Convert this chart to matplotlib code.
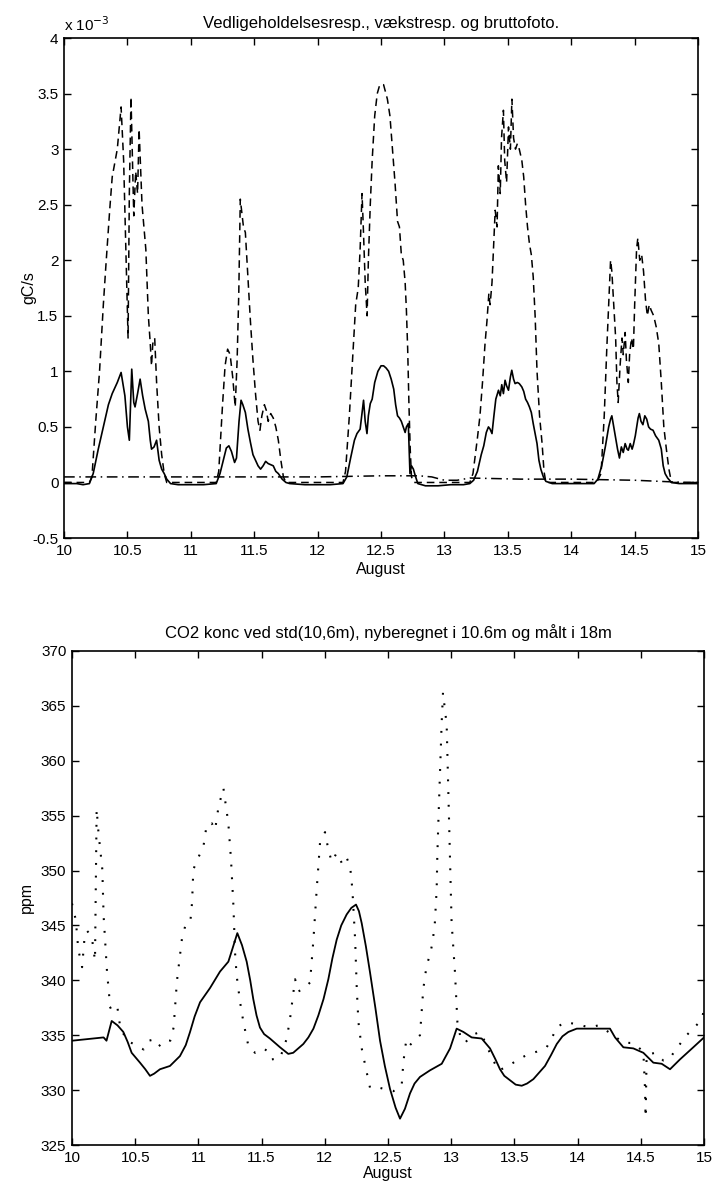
import matplotlib
matplotlib.use("Agg")
import matplotlib.pyplot as plt

plt.rcParams['font.family'] = ['Liberation Sans', 'DejaVu Sans']
plt.rcParams['font.size'] = 11

# Øverste figur: bruttofotosyntese (stiplet), vækstrespiration (fuldt optrukket)
# og vedligeholdelsesrespiration (stiplet-prikket). Enhed: 1e-3 gC/s
brutto_x = [10.0, 10.2, 10.22, 10.25, 10.28, 10.31, 10.33, 10.36, 10.38, 10.42, 10.45, 10.47,
            10.49, 10.505, 10.515, 10.528, 10.54, 10.55, 10.565, 10.58, 10.592, 10.605, 10.615,
            10.63, 10.645, 10.665, 10.68, 10.69, 10.70, 10.715, 10.73, 10.75, 10.77, 10.79, 10.81,
            11.2, 11.22, 11.25, 11.27, 11.29, 11.31, 11.33, 11.35, 11.365, 11.378, 11.39, 11.40,
            11.415, 11.43, 11.45, 11.47, 11.49, 11.51, 11.53, 11.545, 11.56, 11.58, 11.595, 11.61,
            11.63, 11.65, 11.67, 11.69, 11.71, 11.73, 11.75,
            12.2, 12.22, 12.25, 12.28, 12.30, 12.32, 12.335, 12.35, 12.36, 12.375, 12.39, 12.40,
            12.415, 12.43, 12.45, 12.47, 12.49, 12.52, 12.55, 12.57, 12.59, 12.61, 12.63, 12.645,
            12.66, 12.675, 12.69, 12.70, 12.71, 12.72, 12.73, 12.74, 12.76,
            13.2, 13.225, 13.26, 13.28, 13.30, 13.32, 13.335, 13.35, 13.36, 13.375, 13.39, 13.40,
            13.415, 13.425, 13.44, 13.45, 13.465, 13.475, 13.49, 13.505, 13.52, 13.532, 13.545,
            13.56, 13.575, 13.59, 13.61, 13.625, 13.64, 13.655, 13.67, 13.685, 13.70, 13.715,
            13.73, 13.75, 13.77, 13.785, 13.80,
            14.2, 14.235, 14.26, 14.28, 14.295, 14.31, 14.32, 14.335, 14.35, 14.36, 14.37, 14.385,
            14.40, 14.41, 14.425, 14.435, 14.45, 14.46, 14.475, 14.49, 14.50, 14.515, 14.525,
            14.54, 14.555, 14.57, 14.585, 14.60, 14.615, 14.63, 14.65, 14.67, 14.69, 14.71, 14.73,
            14.75, 14.77, 14.79, 15.0]
brutto_y = [0.0, 0.0, 0.05, 0.55, 1.0, 1.6, 1.95, 2.45, 2.75, 3.0, 3.38, 2.9,
            2.0, 1.3, 2.6, 3.47, 2.9, 2.4, 2.8, 2.6, 3.18, 2.8, 2.5,
            2.3, 2.1, 1.5, 1.25, 1.05, 1.25, 1.3, 0.9, 0.5, 0.25, 0.08, 0.0,
            0.0, 0.1, 0.7, 1.05, 1.2, 1.15, 0.95, 0.68, 1.1, 1.7, 2.55, 2.45,
            2.3, 2.25, 1.85, 1.45, 1.1, 0.8, 0.55, 0.47, 0.6, 0.7, 0.65, 0.55,
            0.62, 0.58, 0.5, 0.38, 0.2, 0.05, 0.0,
            0.0, 0.1, 0.6, 1.2, 1.6, 1.75, 2.1, 2.6, 2.3, 1.8, 1.5, 2.0,
            2.5, 2.9, 3.3, 3.5, 3.58, 3.58, 3.45, 3.3, 3.0, 2.7, 2.35, 2.3,
            2.05, 2.0, 1.8, 1.55, 1.2, 0.7, 0.3, 0.05, 0.0,
            0.0, 0.08, 0.4, 0.6, 0.9, 1.25, 1.45, 1.7, 1.6, 1.8, 2.2, 2.45,
            2.3, 2.85, 2.6, 3.1, 3.35, 2.9, 2.7, 3.2, 3.0, 3.45, 3.1,
            3.0, 3.05, 3.0, 2.9, 2.75, 2.5, 2.3, 2.15, 2.05, 1.85, 1.5,
            1.0, 0.6, 0.35, 0.1, 0.0,
            0.0, 0.08, 0.6, 1.2, 1.6, 2.0, 1.9, 1.6, 1.3, 0.9, 0.72, 1.05,
            1.3, 1.15, 1.35, 1.1, 0.9, 1.15, 1.3, 1.2, 1.6, 2.1, 2.2,
            2.0, 2.05, 1.9, 1.65, 1.5, 1.6, 1.55, 1.5, 1.4, 1.25, 0.9, 0.5,
            0.3, 0.12, 0.0, 0.0]

vaekst_x = [10.0, 10.1, 10.15, 10.2, 10.23, 10.27, 10.31, 10.35, 10.38, 10.42, 10.45, 10.48,
            10.50, 10.515, 10.534, 10.55, 10.56, 10.58, 10.60, 10.62, 10.64, 10.665, 10.68, 10.69,
            10.71, 10.73, 10.75, 10.77, 10.79, 10.81, 10.84, 10.9, 11.0, 11.1,
            11.2, 11.23, 11.26, 11.28, 11.30, 11.32, 11.345, 11.36, 11.38, 11.396, 11.41, 11.43,
            11.45, 11.47, 11.49, 11.51, 11.53, 11.55, 11.57, 11.59, 11.61, 11.63, 11.65, 11.67,
            11.69, 11.72, 11.75, 11.78, 11.9, 12.0, 12.1,
            12.2, 12.23, 12.26, 12.29, 12.31, 12.335, 12.35, 12.362, 12.375, 12.389, 12.40, 12.415,
            12.43, 12.45, 12.475, 12.50, 12.52, 12.54, 12.56, 12.58, 12.60, 12.615, 12.63, 12.645,
            12.66, 12.675, 12.69, 12.70, 12.715, 12.72, 12.728, 12.74, 12.755, 12.77, 12.79,
            12.85, 12.95, 13.05, 13.15,
            13.2, 13.23, 13.26, 13.29, 13.31, 13.33, 13.347, 13.36, 13.375, 13.39, 13.405, 13.426,
            13.44, 13.452, 13.465, 13.478, 13.49, 13.505, 13.52, 13.531, 13.545, 13.557, 13.575,
            13.59, 13.61, 13.625, 13.64, 13.655, 13.67, 13.685, 13.70, 13.715, 13.73, 13.745,
            13.76, 13.78, 13.80, 13.85, 14.0, 14.1,
            14.18, 14.21, 14.24, 14.27, 14.295, 14.31, 14.32, 14.335, 14.35, 14.365, 14.38, 14.395,
            14.41, 14.425, 14.44, 14.45, 14.465, 14.48, 14.49, 14.505, 14.516, 14.527, 14.537,
            14.55, 14.565, 14.58, 14.595, 14.61, 14.625, 14.645, 14.665, 14.69, 14.71, 14.725,
            14.74, 14.76, 14.79, 14.85, 14.95, 15.0]
vaekst_y = [-0.01, -0.01, -0.02, -0.01, 0.08, 0.3, 0.5, 0.7, 0.8, 0.9, 0.99, 0.78,
            0.5, 0.38, 1.02, 0.72, 0.68, 0.8, 0.93, 0.78, 0.66, 0.55, 0.38, 0.3,
            0.32, 0.38, 0.2, 0.12, 0.08, 0.03, -0.01, -0.02, -0.02, -0.02,
            -0.01, 0.08, 0.22, 0.31, 0.33, 0.28, 0.18, 0.22, 0.55, 0.74, 0.7, 0.63,
            0.48, 0.36, 0.25, 0.2, 0.15, 0.12, 0.15, 0.19, 0.17, 0.16, 0.15, 0.1,
            0.08, 0.03, 0.0, -0.01, -0.02, -0.02, -0.02,
            -0.01, 0.05, 0.22, 0.38, 0.44, 0.48, 0.62, 0.74, 0.55, 0.44, 0.6, 0.71,
            0.75, 0.9, 1.0, 1.05, 1.05, 1.03, 1.0, 0.93, 0.84, 0.7, 0.6, 0.58,
            0.55, 0.5, 0.45, 0.5, 0.53, 0.35, 0.08, 0.15, 0.12, 0.06, -0.01,
            -0.03, -0.03, -0.02, -0.02,
            -0.01, 0.02, 0.1, 0.25, 0.33, 0.45, 0.5, 0.48, 0.44, 0.6, 0.75, 0.83,
            0.78, 0.88, 0.8, 0.92, 0.87, 0.83, 0.95, 1.01, 0.93, 0.89, 0.9,
            0.89, 0.86, 0.82, 0.75, 0.72, 0.68, 0.63, 0.53, 0.44, 0.35, 0.2,
            0.12, 0.05, 0.01, -0.01, -0.01, -0.01,
            -0.01, 0.03, 0.15, 0.33, 0.5, 0.57, 0.6, 0.5, 0.4, 0.3, 0.22, 0.32,
            0.27, 0.35, 0.3, 0.29, 0.35, 0.3, 0.34, 0.42, 0.5, 0.58, 0.62,
            0.55, 0.52, 0.6, 0.57, 0.5, 0.48, 0.47, 0.42, 0.38, 0.3, 0.15,
            0.08, 0.04, 0.0, -0.01, -0.01, -0.01]

vedl_x = [10.0, 10.5, 11.0, 11.5, 12.0, 12.5, 12.8, 12.9, 13.0, 13.1, 13.2, 13.6, 14.0, 14.5, 14.9, 15.0]
vedl_y = [0.05, 0.05, 0.05, 0.05, 0.05, 0.06, 0.06, 0.05, 0.02, 0.02, 0.04, 0.03, 0.03, 0.02, 0.0, 0.0]

# Nederste figur: CO2 koncentration (ppm)
ny_x = [10.0, 10.25, 10.273, 10.314, 10.36, 10.406, 10.44, 10.472, 10.538, 10.58, 10.617,
        10.65, 10.696, 10.775, 10.854, 10.9, 10.934, 10.97, 11.013, 11.092, 11.171, 11.237,
        11.27, 11.308, 11.345, 11.382, 11.41, 11.434, 11.46, 11.487, 11.52, 11.566, 11.646,
        11.711, 11.75, 11.79, 11.83, 11.87, 11.91, 11.949, 11.99, 12.028, 12.06, 12.094,
        12.13, 12.173, 12.21, 12.247, 12.27, 12.292, 12.325, 12.358, 12.4, 12.437, 12.475,
        12.516, 12.56, 12.595, 12.634, 12.674, 12.71, 12.753, 12.832, 12.925, 12.991, 13.02,
        13.043, 13.096, 13.162, 13.241, 13.307, 13.35, 13.386, 13.42, 13.465, 13.51, 13.558,
        13.6, 13.65, 13.742, 13.79, 13.835, 13.88, 13.927, 13.993, 14.256, 14.296, 14.362,
        14.441, 14.52, 14.599, 14.665, 14.731, 14.81, 14.915, 15.0]
ny_y = [334.5, 334.8, 334.5, 336.3, 335.9, 335.3, 334.4, 333.4, 332.5, 331.9, 331.3,
        331.5, 331.9, 332.2, 333.1, 334.1, 335.3, 336.7, 338.0, 339.3, 340.8, 341.7,
        342.9, 344.3, 343.2, 341.7, 340.0, 338.3, 336.8, 335.7, 335.1, 334.7, 333.9,
        333.3, 333.4, 333.8, 334.2, 334.8, 335.6, 336.8, 338.3, 340.1, 342.0, 343.7,
        345.0, 346.0, 346.6, 346.9, 346.3, 345.2, 343.1, 340.7, 337.5, 334.5, 332.2,
        330.1, 328.4, 327.4, 328.3, 329.7, 330.6, 331.2, 331.8, 332.4, 333.8, 334.8,
        335.6, 335.3, 334.8, 334.7, 333.8, 332.8, 331.9, 331.3, 330.9, 330.5, 330.4,
        330.6, 331.0, 332.2, 333.2, 334.2, 334.9, 335.3, 335.6, 335.6, 334.8, 333.9,
        333.8, 333.4, 332.5, 332.4, 331.9, 332.8, 333.9, 334.8]

maalt_x = [10.0, 10.03, 10.05, 10.08, 10.10, 10.12, 10.156, 10.182, 10.195, 10.21, 10.24,
           10.25, 10.277, 10.303, 10.356, 10.382, 10.435, 10.488, 10.567, 10.607, 10.646,
           10.686, 10.751, 10.778, 10.804, 10.83, 10.87, 10.897, 10.936, 10.95, 10.96, 11.0,
           11.04, 11.066, 11.106, 11.132, 11.159, 11.198, 11.224, 11.237, 11.258, 11.277,
           11.29, 11.303, 11.33, 11.356, 11.396, 11.448, 11.514, 11.554, 11.58, 11.646,
           11.699, 11.725, 11.752, 11.765, 11.791, 11.831, 11.883, 11.91, 11.936, 11.949,
           11.962, 12.002, 12.028, 12.055, 12.094, 12.134, 12.168, 12.2, 12.218, 12.24,
           12.253, 12.266, 12.292, 12.319, 12.358, 12.437, 12.542, 12.608, 12.62, 12.634,
           12.647, 12.674, 12.713, 12.753, 12.766, 12.779, 12.806, 12.832, 12.853, 12.871,
           12.885, 12.89, 12.898, 12.911, 12.924, 12.935, 12.964, 12.977, 12.99, 13.003,
           13.03, 13.049, 13.07, 13.109, 13.162, 13.228, 13.268, 13.32, 13.373, 13.439,
           13.518, 13.597, 13.676, 13.755, 13.795, 13.834, 13.9, 13.993, 14.098, 14.164,
           14.283, 14.362, 14.441, 14.52, 14.533, 14.538, 14.546, 14.612, 14.678, 14.731,
           14.77, 14.81, 14.862, 14.915, 14.98, 15.0]
maalt_y = [347.0, 345.5, 342.8, 341.2, 344.0, 344.5, 344.0, 341.8, 355.6, 353.4, 350.1,
           345.9, 340.8, 337.5, 337.8, 335.7, 334.5, 334.2, 333.7, 334.5, 334.6,
           334.0, 334.6, 334.5, 335.7, 339.9, 343.8, 345.0, 345.3, 347.1, 350.1, 351.2,
           352.2, 354.2, 354.3, 353.7, 355.8, 357.5, 355.4, 354.3, 351.0, 346.8,
           342.5, 340.4, 338.0, 336.2, 334.0, 333.4, 333.8, 333.5, 332.8, 332.9,
           334.7, 336.5, 338.9, 340.1, 339.0, 339.2, 339.8, 343.7, 348.3, 350.4,
           352.5, 353.5, 351.9, 350.8, 351.6, 350.7, 351.3, 350.4, 348.3, 343.7,
           339.2, 336.2, 333.8, 332.3, 330.2, 330.2, 329.9, 330.4, 332.3, 333.8,
           334.6, 334.1, 334.6, 335.0, 337.1, 339.2, 341.4, 342.3, 343.5, 345.3,
           348.3, 351.3, 354.3, 358.8, 363.3, 366.2, 363.3, 357.2, 351.3, 345.3,
           340.7, 336.2, 335.0, 334.3, 335.0, 335.3, 334.4, 333.0, 331.8, 332.1,
           332.7, 333.2, 333.5, 333.9, 334.7, 335.7, 336.2, 336.0, 335.7, 335.9,
           335.0, 334.3, 334.3, 333.5, 330.2, 327.5, 333.2, 333.4, 332.7, 332.9,
           333.6, 334.2, 335.0, 335.6, 336.4, 337.3]

dage = [10, 10.5, 11, 11.5, 12, 12.5, 13, 13.5, 14, 14.5, 15]
dage_tekst = ['10', '10.5', '11', '11.5', '12', '12.5', '13', '13.5', '14', '14.5', '15']

fig = plt.figure(figsize=(7.17, 11.89), dpi=100)

# --- øverste akse
ax1 = fig.add_axes([0.0893, 0.5475, 0.8843, 0.4205])
ax1.plot(brutto_x, brutto_y, color='black', lw=1.1, linestyle=(0, (5, 3.2)))
ax1.plot(vaekst_x, vaekst_y, color='black', lw=1.2)
ax1.plot(vedl_x, vedl_y, color='black', lw=1.1, linestyle=(0, (7, 3, 1, 3)))
ax1.set_xlim(10, 15)
ax1.set_ylim(-0.5, 4)
ax1.set_xticks(dage)
ax1.set_xticklabels(dage_tekst)
ax1.set_yticks([-0.5, 0, 0.5, 1, 1.5, 2, 2.5, 3, 3.5, 4])
ax1.set_yticklabels(['-0.5', '0', '0.5', '1', '1.5', '2', '2.5', '3', '3.5', '4'])
ax1.set_title('Vedligeholdelsesresp., vækstresp. og bruttofoto.', fontsize=12, pad=7)
ax1.set_xlabel('August', fontsize=11.5, labelpad=3)
ax1.set_ylabel('gC/s', fontsize=11.5)
ax1.yaxis.set_label_coords(-0.043, 0.5)
ax1.text(0.0, 1.008, 'x 10$^{-3}$', transform=ax1.transAxes, ha='left', va='bottom', fontsize=11)

# --- nederste akse
ax2 = fig.add_axes([0.1004, 0.0370, 0.8815, 0.4155])
ax2.plot(ny_x, ny_y, color='black', lw=1.3)
ax2.plot(maalt_x, maalt_y, color='black', lw=1.5, linestyle=(0, (0.9, 5.2)))
ax2.set_xlim(10, 15)
ax2.set_ylim(325, 370)
ax2.set_xticks(dage)
ax2.set_xticklabels(dage_tekst)
ax2.set_yticks(range(325, 371, 5))
ax2.set_title('CO2 konc ved std(10,6m), nyberegnet i 10.6m og målt i 18m', fontsize=12, pad=9)
ax2.set_xlabel('August', fontsize=11.5, labelpad=1)
ax2.set_ylabel('ppm', fontsize=11.5)
ax2.yaxis.set_label_coords(-0.06, 0.5)

for ax in (ax1, ax2):
    ax.tick_params(direction='in', top=True, right=True, length=5, width=1,
                   labelsize=11, pad=4)
    for s in ax.spines.values():
        s.set_linewidth(1.2)

fig.savefig('out.png', dpi=100)
